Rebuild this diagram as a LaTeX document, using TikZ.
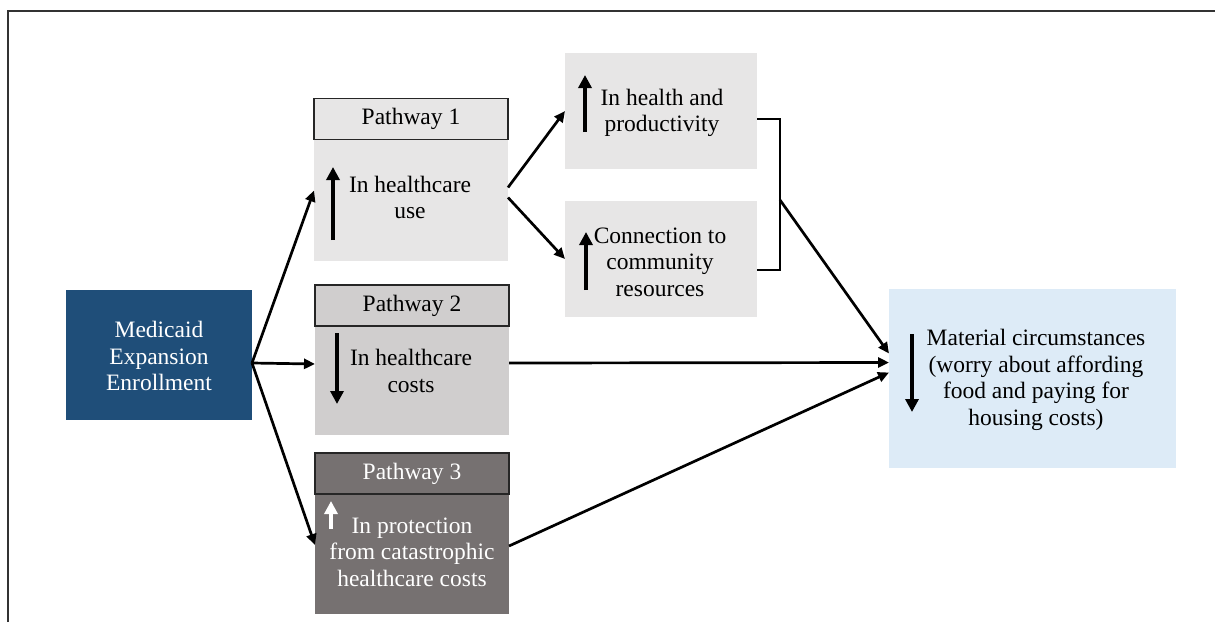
\documentclass[tikz,border=0pt]{standalone}
\usepackage{fontspec}
\setmainfont{Liberation Serif}
\usetikzlibrary{arrows.meta,calc}
\definecolor{medblue}{HTML}{1F4E79}
\definecolor{lgray}{HTML}{E7E6E6}
\definecolor{mgray}{HTML}{D0CECE}
\definecolor{dgray}{HTML}{767171}
\definecolor{lblue}{HTML}{DDEBF7}
\definecolor{framec}{HTML}{333333}
\begin{document}
\begin{tikzpicture}[x=1pt,y=-1pt,
  boxnode/.style={rectangle, inner sep=0pt, outer sep=0pt, draw=none},
  hdr/.style={rectangle, inner sep=0pt, outer sep=0pt, draw=black!85, line width=1.6pt,
    minimum width=194pt, minimum height=41pt, font=\fontsize{23.5}{26.5}\selectfont},
  txt/.style={align=center, inner sep=0pt, font=\fontsize{23.5}{26.5}\selectfont},
  conn/.style={line width=2.7pt, -{Triangle[length=11pt,width=10pt]}},
  glyph/.style={line width=4.3pt, -{Triangle[length=13pt,width=13pt]}}]
\useasboundingbox (0,0) rectangle (1215,622);
% frame (only top and left edges visible)
\draw[framec, line width=2pt] (8,622) -- (8,11) -- (1215,11);

% Medicaid
\node[boxnode, fill=medblue, minimum width=186pt, minimum height=130pt] (med) at (159,355) {};
\node[txt, text=white] (medt) at (159,356) {Medicaid\\Expansion\\Enrollment};

% Pathway 1
\node[boxnode, fill=lgray, minimum width=194pt, minimum height=121pt] (p1) at (411,200.5) {};
\node[hdr, fill=lgray] (p1h) at (411,119) {Pathway 1};
\node[txt] (p1t) at (410,197.5) {In healthcare\\use};

% Pathway 2
\node[boxnode, fill=mgray, minimum width=194pt, minimum height=109pt] (p2) at (412,380.5) {};
\node[hdr, fill=mgray] (p2h) at (412,305.5) {Pathway 2};
\node[txt] (p2t) at (411,371) {In healthcare\\costs};

% Pathway 3
\node[boxnode, fill=dgray, minimum width=194pt, minimum height=120pt] (p3) at (412,554) {};
\node[hdr, fill=dgray, text=white] (p3h) at (412,473.5) {Pathway 3};
\node[txt, text=white] (p3t) at (412,552) {In protection\\from catastrophic\\healthcare costs};

% Outcome boxes
\node[boxnode, fill=lgray, minimum width=192pt, minimum height=116pt] (hp) at (661,111) {};
\node[txt] (hpt) at (662,113) {In health and\\productivity};
\node[boxnode, fill=lgray, minimum width=192pt, minimum height=116pt] (cr) at (661,259) {};
\node[txt] (crt) at (660,262) {Connection to\\community\\resources};
\node[boxnode, fill=lblue, minimum width=287pt, minimum height=179pt] (mat) at (1032.5,378.5) {};
\node[txt] (matt) at (1036,380) {Material circumstances\\(worry about affording\\food and paying for\\housing costs)};

% direction glyphs
\draw[glyph] (333,240) -- (333,167);
\draw[glyph] (337,333) -- (337,404);
\draw[glyph, white] (331,529) -- (331,501);
\draw[glyph] (585,132) -- (585,75);
\draw[glyph] (586,290) -- (586,232);
\draw[glyph] (912,334) -- (912,412);

% connectors
\coordinate (mo) at ($(med.east)+(0,8)$);
\draw[conn] (mo) -- ($(p1.west)+(0,-10)$);
\draw[conn] (mo) -- ($(p2.west)+(0,-16.5)$);
\draw[conn] (mo) -- ($(p3.west)+(0,-9)$);
\draw[conn] ($(p1.east)+(0,-13)$) -- (hp.west);
\draw[conn] ($(p1.east)+(0,-3)$) -- (cr.west);
\coordinate (bt) at ($(hp.east)+(0,8)$);
\coordinate (bb) at ($(cr.east)+(0,11)$);
\draw[line width=2.7pt] (bt) -- ++(23,0) |- (bb);
\coordinate (bm) at ($(bt)+(23,81)$);
\draw[conn] (bm) -- ($(mat.west)+(0,-25)$);
\draw[conn] ($(p2.east)+(0,-17.5)$) -- ($(mat.west)+(0,-16)$);
\draw[conn] ($(p3.east)+(0,-8)$) -- ($(mat.west)+(0,-6)$);
\end{tikzpicture}
\end{document}
